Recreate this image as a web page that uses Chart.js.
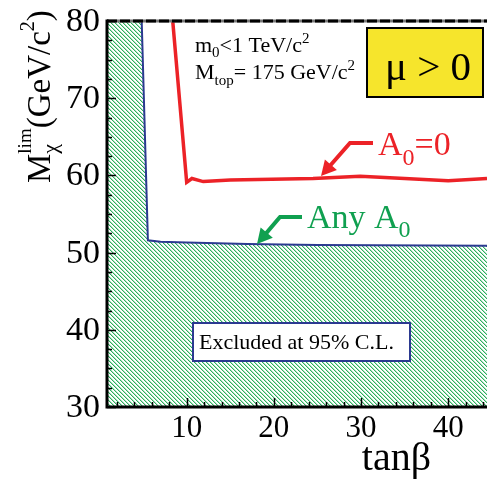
<!DOCTYPE html>
<html>
<head>
<meta charset="utf-8">
<script src="https://cdn.jsdelivr.net/npm/chart.js@4.4.0/dist/chart.umd.min.js"></script>
<style>
  html, body { margin: 0; padding: 0; background: #fff; }
  #wrap { width: 487px; height: 480px; }
  .pre { font-family: "Liberation Serif"; position: absolute; left: -999px; }
</style>
</head>
<body>
<span class="pre">preload χβμ</span>
<div id="wrap"><canvas id="c" width="487" height="480"></canvas></div>
<script>
/* chargino mass limit vs tan(beta), mu > 0 */

// axis range and ticks
const X_MIN = 0.86, X_MAX = 44.45;
const Y_MIN = 30, Y_MAX = 80;
const xTicks = [10, 20, 30, 40];
const yTicks = [30, 40, 50, 60, 70, 80];

// "Any A0" limit (blue contour, hatched below)
const tanbAny = [4.84, 5.55, 7, 10, 17, 25, 44.45];
const mLimAny = [80, 51.6, 51.4, 51.3, 51.1, 51.0, 50.9];

// "A0=0" limit (red)
const tanbA0 = [8.4, 10.0, 10.6, 11.9, 15, 24.5, 29.9, 35, 40, 44.45];
const mLimA0 = [80, 59.1, 59.6, 59.2, 59.4, 59.6, 59.9, 59.6, 59.3, 59.6];

const RED = '#ec2227', GREEN = '#10a050', BLUE = '#2b3990';
const SERIF = '"Liberation Serif", "Times New Roman", serif';

const pts = (xs, ys) => xs.map((x, i) => ({ x, y: ys[i] }));

// green "\\\" hatch
function mkHatch() {
  const pc = document.createElement('canvas');
  pc.width = 4; pc.height = 4;
  const g = pc.getContext('2d');
  const img = g.createImageData(4, 4);
  const cols = [[45, 175, 92], [175, 226, 194], [255, 255, 255], [255, 255, 255]];
  for (let y = 0; y < 4; y++) {
    for (let x = 0; x < 4; x++) {
      const c = cols[(((x - y) % 4) + 4) % 4];
      const k = (y * 4 + x) * 4;
      img.data[k] = c[0]; img.data[k + 1] = c[1]; img.data[k + 2] = c[2];
      img.data[k + 3] = 255;
    }
  }
  g.putImageData(img, 0, 0);
  return g.createPattern(pc, 'repeat');
}

// draw a run of text pieces, with sub/superscripts
function rich(ctx, x, y, parts) {
  let cx = x;
  for (const p of parts) {
    ctx.font = p.s + 'px ' + SERIF;
    ctx.fillText(p.t, cx, y + (p.dy || 0));
    const w = ctx.measureText(p.t).width;
    if (p.keep) continue;
    cx += (p.w != null ? Math.max(p.w, w) : w);
  }
  return cx;
}

function arrow(ctx, path, color) {
  const n = path.length;
  const [tx, ty] = path[n - 1], [px, py] = path[n - 2];
  const len = Math.hypot(tx - px, ty - py);
  const ux = (tx - px) / len, uy = (ty - py) / len;
  const hl = 15, hw = 8;
  const bx = tx - ux * hl, by = ty - uy * hl;
  ctx.save();
  ctx.strokeStyle = color; ctx.fillStyle = color;
  ctx.lineWidth = 4; ctx.lineJoin = 'miter';
  ctx.beginPath();
  ctx.moveTo(path[0][0], path[0][1]);
  for (let i = 1; i < n - 1; i++) ctx.lineTo(path[i][0], path[i][1]);
  ctx.lineTo(bx + ux * 2, by + uy * 2);
  ctx.stroke();
  ctx.beginPath();
  ctx.moveTo(tx, ty);
  ctx.lineTo(bx - uy * hw, by + ux * hw);
  ctx.lineTo(bx + uy * hw, by - ux * hw);
  ctx.closePath();
  ctx.fill();
  ctx.restore();
}

const decor = {
  id: 'decor',
  afterDatasetsDraw(chart) {
    const { ctx, chartArea: a, scales: { x, y } } = chart;
    ctx.save();

    // inward ticks
    ctx.strokeStyle = '#000';
    ctx.lineWidth = 1.5;
    ctx.beginPath();
    for (let v = 2; v < X_MAX; v += 2) {
      const px = Math.round(x.getPixelForValue(v)) + 0.5;
      const L = xTicks.includes(v) ? 9 : 5;
      ctx.moveTo(px, a.bottom); ctx.lineTo(px, a.bottom - L);
    }
    for (let v = Y_MIN; v <= Y_MAX; v += 2.5) {
      const py = Math.round(y.getPixelForValue(v)) + 0.5;
      const L = yTicks.includes(v) ? 9 : 5;
      ctx.moveTo(a.left, py); ctx.lineTo(a.left + L, py);
    }
    ctx.stroke();

    // frame
    ctx.lineWidth = 3;
    ctx.strokeStyle = '#777';
    ctx.beginPath(); ctx.moveTo(a.left, a.top); ctx.lineTo(a.right, a.top); ctx.stroke();
    ctx.strokeStyle = '#000';
    ctx.setLineDash([10, 3]);
    ctx.beginPath(); ctx.moveTo(a.left, a.top); ctx.lineTo(a.right, a.top); ctx.stroke();
    ctx.setLineDash([]);
    ctx.beginPath();
    ctx.moveTo(a.left, a.top - 1.5); ctx.lineTo(a.left, a.bottom); ctx.lineTo(a.right, a.bottom);
    ctx.stroke();

    // tick labels
    ctx.fillStyle = '#000';
    ctx.font = '34px ' + SERIF;
    ctx.textAlign = 'right'; ctx.textBaseline = 'middle';
    yTicks.forEach(v => ctx.fillText(String(v), a.left - 7, y.getPixelForValue(v) + 1));
    ctx.font = '31px ' + SERIF;
    ctx.textAlign = 'center'; ctx.textBaseline = 'alphabetic';
    xTicks.forEach(v => ctx.fillText(String(v), x.getPixelForValue(v), 437));

    // axis titles
    ctx.textAlign = 'right';
    ctx.font = '40px ' + SERIF;
    ctx.fillText('tan\u03b2', 431, 470);

    ctx.save();
    ctx.translate(50, 183);
    ctx.rotate(-Math.PI / 2);
    ctx.textAlign = 'left';
    ctx.font = '19px ' + SERIF;
    const wSub = Math.max(ctx.measureText('\u03c7').width, ctx.measureText('lim').width);
    rich(ctx, 0, 0, [
      { t: 'M', s: 33 },
      { t: '\u03c7', s: 22, dy: 7, keep: true },
      { t: 'lim', s: 19, dy: -19, w: wSub },
      { t: '(GeV/c', s: 33 },
      { t: '2', s: 20, dy: -16 },
      { t: ')', s: 33 }
    ]);
    ctx.restore();

    // conditions text
    ctx.textAlign = 'left';
    rich(ctx, 195, 52, [
      { t: 'm', s: 22 }, { t: '0', s: 15, dy: 5 },
      { t: '<1 TeV/c', s: 22 }, { t: '2', s: 15, dy: -9 }
    ]);
    rich(ctx, 195, 79, [
      { t: 'M', s: 22 }, { t: 'top', s: 15, dy: 6 },
      { t: '= 175 GeV/c', s: 22 }, { t: '2', s: 15, dy: -9 }
    ]);

    // mu > 0 box
    ctx.fillStyle = '#f6e52c';
    ctx.fillRect(367, 28, 116, 69);
    ctx.strokeStyle = '#000'; ctx.lineWidth = 2;
    ctx.strokeRect(367, 28, 116, 69);
    ctx.fillStyle = '#000';
    ctx.textAlign = 'center';
    ctx.font = '41px ' + SERIF;
    ctx.fillText('\u03bc > 0', 428, 80);

    // curve labels + arrows
    ctx.textAlign = 'left';
    ctx.fillStyle = RED;
    rich(ctx, 378, 155, [
      { t: 'A', s: 34 }, { t: '0', s: 24, dy: 10 }, { t: '=0', s: 34 }
    ]);
    arrow(ctx, [[373, 143], [350, 143], [321, 176]], RED);
    ctx.fillStyle = GREEN;
    rich(ctx, 307, 228, [
      { t: 'Any A', s: 34 }, { t: '0', s: 24, dy: 9 }
    ]);
    arrow(ctx, [[302, 217], [280, 217], [257, 244]], GREEN);

    // excluded box
    ctx.fillStyle = '#fff';
    ctx.fillRect(193, 323, 217, 38);
    ctx.strokeStyle = BLUE; ctx.lineWidth = 2;
    ctx.strokeRect(193, 323, 217, 38);
    ctx.fillStyle = '#000';
    ctx.font = '22px ' + SERIF;
    ctx.fillText('Excluded at 95% C.L.', 199, 349);

    ctx.restore();
  }
};

function build() {
  const fillPts = [{ x: X_MIN, y: Y_MAX }].concat(pts(tanbAny, mLimAny));
  new Chart(document.getElementById('c'), {
    type: 'line',
    data: {
      datasets: [
        { data: fillPts, fill: 'start', backgroundColor: mkHatch(), borderWidth: 0, pointRadius: 0, order: 3 },
        { data: pts(tanbAny, mLimAny), borderColor: BLUE, borderWidth: 2, fill: false, pointRadius: 0, order: 1 },
        { data: pts(tanbA0, mLimA0), borderColor: RED, borderWidth: 3.5, fill: false, pointRadius: 0, order: 0 }
      ]
    },
    options: {
      responsive: false,
      animation: false,
      layout: { padding: { left: 107, top: 21, right: 0, bottom: 73 } },
      plugins: { legend: { display: false }, tooltip: { enabled: false } },
      scales: {
        x: { type: 'linear', min: X_MIN, max: X_MAX, display: false },
        y: { type: 'linear', min: Y_MIN, max: Y_MAX, display: false }
      }
    },
    plugins: [decor]
  });
}

document.fonts.load('20px "Liberation Serif"', 'χβμ09')
  .then(build, build);
</script>
</body>
</html>
